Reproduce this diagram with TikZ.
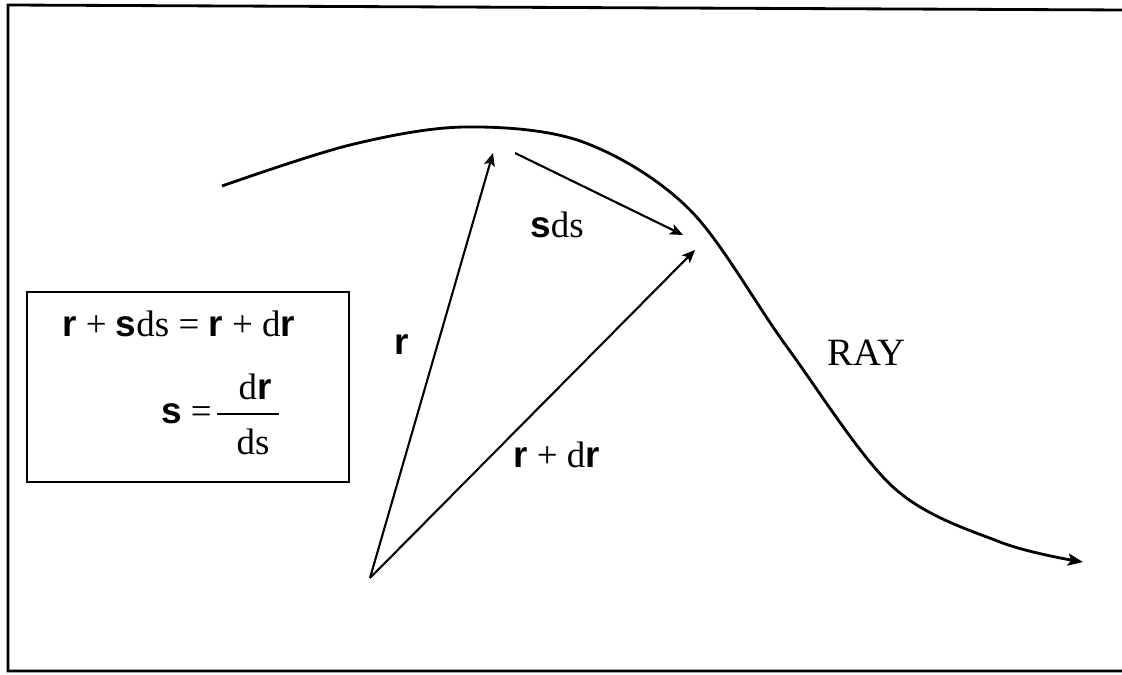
\documentclass[tikz,border=0pt]{standalone}
\usepackage{fontspec}
\setmainfont{Liberation Serif}
\setsansfont{Liberation Sans}
\usepackage{tikz}
\usetikzlibrary{arrows.meta,positioning}

\newcommand{\vecr}{\textsf{\textbf{r}}}
\newcommand{\vecs}{\textsf{\textbf{s}}}

\begin{document}
\begin{tikzpicture}[
  x=0.02cm, y=-0.02cm,
  frame/.style={line width=1.6pt},
  box/.style={draw, line width=1.4pt},
  label/.style={font=\fontsize{21}{25}\selectfont, inner sep=0pt},
  arrow/.style={-{Stealth[length=2.6mm, width=2.2mm, inset=0.6mm]}, line width=1.2pt},
  ray/.style={-{Stealth[length=3mm, width=2.4mm, inset=0.6mm]}, line width=1.6pt},
]
  \useasboundingbox (0,0) rectangle (1122,675);
  \draw[frame] (1124,10) -- (8,5) -- (8,671) -- (1124,671);

  % formula box
  \draw[box] (27,292) rectangle (349,482);
  \node[label, anchor=base west] (eqone) at (62,337) {\vecr{} + \vecs ds = \vecr{} + d\vecr};
  \node[label] (num) at (255,387) {d\vecr};
  \node[label] (den) at (253,442) {ds};
  \coordinate (barl) at (217,414);
  \coordinate (barr) at (279,414);
  \draw[line width=1.2pt] (barl) -- (barr);
  \node[label, anchor=east] (eqtwo) at (212,414) {\vecs{} =};

  % the ray
  \draw[ray] plot[smooth, tension=0.55] coordinates {(222,186) (350,145) (465,127) (583,142) (690,210) (787,347) (893,487) (1000,542) (1083,562)};

  % vectors
  \coordinate (o) at (370,578);
  \coordinate (rtip) at (493,153);
  \coordinate (drtip) at (695,250);
  \coordinate (sstart) at (515,153);
  \coordinate (stip) at (683,235);
  \draw[arrow] (o) -- (rtip);
  \draw[arrow] (o) -- (drtip);
  \draw[arrow] (sstart) -- (stip);

  \node[label] (rlab) at (402,345) {\vecr};
  \node[label, anchor=base west] (drlab) at (513,467) {\vecr{} + d\vecr};
  \node[label, anchor=base west] (slab) at (530,238) {\vecs ds};
  \node[label, anchor=base west, font=\fontsize{22}{26}\selectfont] (raylab) at (827,365) {RAY};
\end{tikzpicture}
\end{document}
